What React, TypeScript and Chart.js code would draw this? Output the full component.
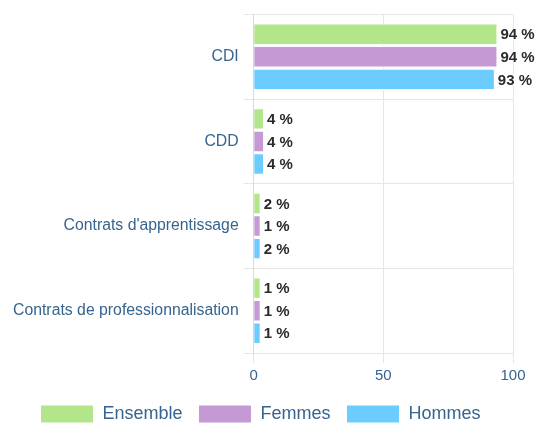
import React, { useEffect, useRef } from "react";
import { Chart, registerables } from "chart.js";

Chart.register(...registerables);

const categories = ["CDI", "CDD", "Contrats d'apprentissage", "Contrats de professionnalisation"];
const seriesNames = ["Ensemble", "Femmes", "Hommes"];
const ensemble = [94, 4, 2, 1];
const femmes = [94, 4, 1, 1];
const hommes = [93, 4, 2, 1];
const xTicks = [0, 50, 100];
const colors = ["#b3e58a", "#c59ad4", "#6ccbff"];

const FONT = "'Liberation Sans', Arial, sans-serif";
const TEXT_BLUE = "#36648f";

const dataLabels = {
  id: "dataLabels",
  afterDatasetsDraw(chart: any) {
    const ctx = chart.ctx;
    ctx.save();
    ctx.font = `bold 15px ${FONT}`;
    ctx.textBaseline = "middle";
    ctx.textAlign = "left";
    ctx.lineJoin = "round";
    chart.data.datasets.forEach((ds: any, di: number) => {
      const meta = chart.getDatasetMeta(di);
      meta.data.forEach((bar: any, i: number) => {
        const txt = `${ds.data[i]} %`;
        const x = bar.x + 3;
        const y = bar.y + 1;
        ctx.strokeStyle = "rgba(255,255,255,0.9)";
        ctx.lineWidth = 2;
        ctx.strokeText(txt, x, y);
        ctx.fillStyle = "#2b2b2b";
        ctx.fillText(txt, x, y);
      });
    });
    ctx.restore();
  },
};

export default function App() {
  const ref = useRef<HTMLCanvasElement>(null);
  useEffect(() => {
    document.body.style.margin = "0";
    const seriesData = [ensemble, femmes, hommes];
    const chart = new Chart(ref.current!, {
      type: "bar",
      data: {
        labels: categories,
        datasets: seriesNames.map((name, i) => ({
          label: name,
          data: seriesData[i],
          backgroundColor: colors[i],
          borderColor: "#ffffff",
          borderWidth: 1,
          minBarLength: 7,
          categoryPercentage: 0.8,
          barPercentage: 0.95,
        })),
      },
      options: {
        indexAxis: "y",
        animation: false,
        responsive: false,
        maintainAspectRatio: false,
        layout: { padding: { top: 12, right: 25, left: 8, bottom: -10 } },
        scales: {
          x: {
            min: 0,
            max: 100,
            afterBuildTicks: (axis: any) => {
              axis.ticks = xTicks.map((v) => ({ value: v }));
            },
            grid: { color: "#e6e6e6", tickLength: 10, drawTicks: true },
            border: { display: false },
            ticks: { color: TEXT_BLUE, font: { family: FONT, size: 15 }, padding: 4 },
          },
          y: {
            grid: { color: "#e6e6e6", tickLength: 10, offset: true },
            border: { color: "#d8d8d8" },
            ticks: { color: TEXT_BLUE, font: { family: FONT, size: 15.8 }, padding: 5 },
          },
        },
        plugins: {
          legend: {
            position: "bottom",
            labels: {
              boxWidth: 53,
              boxHeight: 18,
              padding: 16,
              color: TEXT_BLUE,
              font: { family: FONT, size: 18 },
            },
          },
          tooltip: { enabled: false },
        },
      },
      plugins: [dataLabels],
    });
    return () => chart.destroy();
  }, []);
  return (
    <div style={{ width: 538, height: 423 }}>
      <canvas ref={ref} width={538} height={423} style={{ display: "block" }} />
    </div>
  );
}
